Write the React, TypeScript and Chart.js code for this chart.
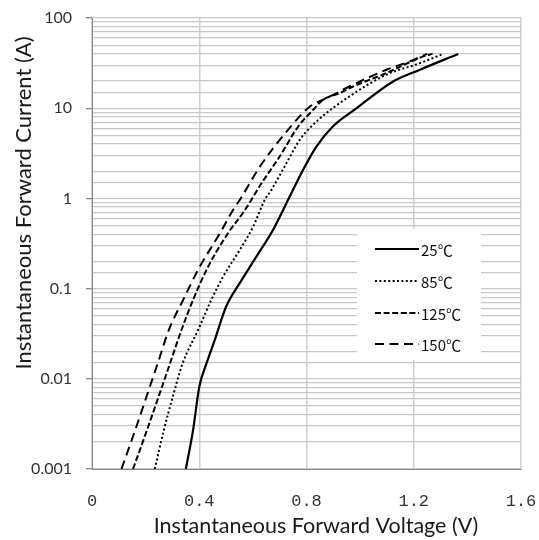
import React, { useEffect, useRef } from "react";
import { Chart, registerables } from "chart.js";

Chart.register(...registerables);

// Forward voltage (V) and current (A) per junction temperature
const v25 = [0.35, 0.377, 0.4, 0.427, 0.458, 0.5, 0.551, 0.613, 0.675, 0.731, 0.787, 0.837, 0.899, 0.987, 1.123, 1.223, 1.366];
const i25 = [0.001, 0.0027, 0.0081, 0.0148, 0.027, 0.063, 0.115, 0.226, 0.447, 0.96, 2.07, 3.76, 6.3, 10, 19.8, 26.7, 40];

const v85 = [0.234, 0.268, 0.301, 0.338, 0.396, 0.445, 0.489, 0.551, 0.601, 0.644, 0.669, 0.725, 0.775, 0.837, 0.96, 1.098, 1.223, 1.31];
const i85 = [0.001, 0.0027, 0.0063, 0.0148, 0.035, 0.075, 0.136, 0.268, 0.486, 0.96, 1.24, 2.45, 4.46, 7.1, 13.5, 23.5, 31.6, 40];

const v125 = [0.153, 0.205, 0.248, 0.291, 0.334, 0.377, 0.433, 0.507, 0.57, 0.632, 0.7, 0.769, 0.825, 0.862, 0.924, 0.974, 1.098, 1.235, 1.27];
const i125 = [0.001, 0.0027, 0.0063, 0.0148, 0.035, 0.075, 0.175, 0.41, 0.74, 1.47, 2.91, 6.27, 9.6, 12.4, 14.7, 17.4, 24.5, 37.5, 40];

const v150 = [0.11, 0.161, 0.203, 0.245, 0.287, 0.34, 0.402, 0.477, 0.526, 0.551, 0.626, 0.731, 0.812, 0.875, 0.96, 1.098, 1.185, 1.25];
const i150 = [0.001, 0.0027, 0.0063, 0.0148, 0.035, 0.075, 0.175, 0.41, 0.745, 0.96, 2.25, 5.75, 10.4, 12.9, 17.4, 26.7, 33, 40];

const seriesLabels = ["25℃", "85℃", "125℃", "150℃"];
const xTicks = [0, 0.4, 0.8, 1.2, 1.6];
const yMin = 0.001;
const yMax = 100;
const xTitle = "Instantaneous Forward Voltage (V)";
const yTitle = "Instantaneous Forward Current (A)";

const isPow10 = (v: number) => {
  const l = Math.log10(v);
  return Math.abs(l - Math.round(l)) < 1e-6;
};

const toPoints = (xs: number[], ys: number[]) => xs.map((x, k) => ({ x, y: ys[k] }));

const dashes: number[][] = [[], [2, 2.4], [6, 2.6], [9, 5.5]];

const decorPlugin = {
  id: "decor",
  afterDatasetsDraw(chart: any) {
    const { ctx } = chart;
    ctx.save();
    // legend box
    ctx.fillStyle = "#ffffff";
    ctx.fillRect(357, 229, 124, 131);
    const rows = [249, 281, 313, 344];
    chart.data.datasets.forEach((ds: any, k: number) => {
      const y = rows[k];
      ctx.beginPath();
      ctx.setLineDash(ds.borderDash || []);
      ctx.lineWidth = ds.borderWidth;
      ctx.strokeStyle = ds.borderColor;
      ctx.moveTo(375, y);
      ctx.lineTo(419, y);
      ctx.stroke();
      ctx.setLineDash([]);
      ctx.fillStyle = "#111111";
      ctx.font = '15px "Noto Sans CJK SC"';
      ctx.textBaseline = "middle";
      ctx.textAlign = "left";
      ctx.fillText(ds.label, 421, y + 1);
    });
    // axis titles
    ctx.fillStyle = "#1a1a1a";
    ctx.font = '21.5px Lato';
    ctx.textAlign = "center";
    ctx.textBaseline = "middle";
    ctx.fillText(xTitle, 316, 526);
    ctx.translate(24, 203);
    ctx.rotate(-Math.PI / 2);
    ctx.font = '22px Lato';
    ctx.fillText(yTitle, 0, 0);
    ctx.restore();
  },
};

export default function App() {
  const ref = useRef<HTMLCanvasElement | null>(null);

  useEffect(() => {
    if (!ref.current) return;
    const series = [
      toPoints(v25, i25),
      toPoints(v85, i85),
      toPoints(v125, i125),
      toPoints(v150, i150),
    ];
    const chart = new Chart(ref.current, {
      type: "line",
      data: {
        datasets: series.map((pts, k) => ({
          label: seriesLabels[k],
          data: pts,
          borderColor: "#000000",
          borderWidth: k === 0 ? 2.2 : 2,
          borderDash: dashes[k],
          pointRadius: 0,
          fill: false,
          cubicInterpolationMode: "monotone" as const,
        })),
      },
      options: {
        responsive: false,
        animation: false,
        layout: { padding: { left: 0, top: 18, right: 18, bottom: 0 } },
        plugins: {
          legend: { display: false },
          tooltip: { enabled: false },
        },
        scales: {
          x: {
            type: "linear",
            min: 0,
            max: 1.6,
            afterBuildTicks: (scale: any) => {
              scale.ticks = xTicks.map((value) => ({ value }));
            },
            afterFit: (scale: any) => {
              scale.height = 71;
              scale.paddingLeft = 0;
              scale.paddingRight = 0;
            },
            grid: {
              color: "#d0d0d0",
              lineWidth: 1.5,
              drawTicks: false,
            },
            border: { color: "#888888", width: 1 },
            ticks: {
              padding: 22,
              color: "#333333",
              font: { family: '"Liberation Mono"', size: 17 },
              callback: (v: any) => String(Number(Number(v).toFixed(1))),
            },
          },
          y: {
            type: "logarithmic",
            min: yMin,
            max: yMax,
            afterFit: (scale: any) => {
              scale.width = 92;
              scale.paddingTop = 0;
              scale.paddingBottom = 0;
            },
            grid: {
              color: "#c8c8c8",
              lineWidth: 1.3,
              tickLength: 6,
              tickColor: (c: any) => (c.tick && isPow10(c.tick.value) ? "#888888" : "rgba(0,0,0,0)"),
            },
            border: { color: "#888888", width: 1 },
            ticks: {
              autoSkip: false,
              padding: 14,
              color: "#333333",
              font: { family: "Lato", size: 16 },
              callback: (v: any) => (isPow10(Number(v)) ? String(Number(Number(v).toPrecision(1))) : ""),
            },
          },
        },
      },
      plugins: [decorPlugin],
    });
    return () => chart.destroy();
  }, []);

  return (
    <div style={{ position: "fixed", left: 0, top: 0, width: 539, height: 540, background: "#ffffff" }}>
      <canvas ref={ref} width={539} height={540} />
    </div>
  );
}
